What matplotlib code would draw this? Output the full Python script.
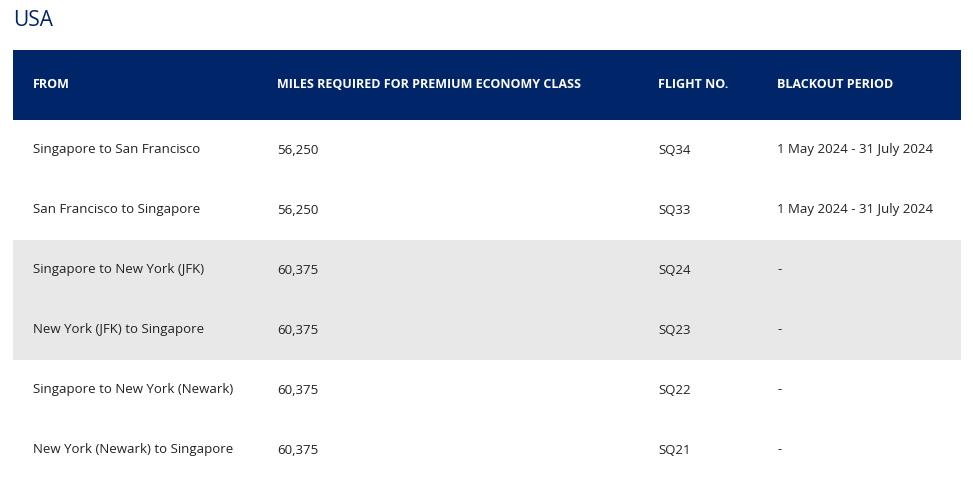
import matplotlib
matplotlib.use("Agg")
import matplotlib.pyplot as plt
from matplotlib.patches import Rectangle

title = "USA"
headers = ["FROM", "MILES REQUIRED FOR PREMIUM ECONOMY CLASS", "FLIGHT NO.", "BLACKOUT PERIOD"]
routes = ["Singapore to San Francisco", "San Francisco to Singapore",
          "Singapore to New York (JFK)", "New York (JFK) to Singapore",
          "Singapore to New York (Newark)", "New York (Newark) to Singapore"]
miles = ["56,250", "56,250", "60,375", "60,375", "60,375", "60,375"]
flights = ["SQ34", "SQ33", "SQ24", "SQ23", "SQ22", "SQ21"]
blackout = ["1 May 2024 - 31 July 2024", "1 May 2024 - 31 July 2024", "-", "-", "-", "-"]
shaded = [False, False, True, True, False, False]

W, H = 973, 480
fig = plt.figure(figsize=(W / 100, H / 100), dpi=100)
ax = fig.add_axes([0, 0, 1, 1])
ax.set_xlim(0, W)
ax.set_ylim(H, 0)
ax.axis("off")

font = "Open Sans"
navy = "#002569"
colx = [33, 277, 658, 777]

ax.text(13, 21, title, fontsize=15, color=navy, family=font, va="center", ha="left")
ax.add_patch(Rectangle((13, 50), 948, 70, color=navy, lw=0))
for x, h in zip(colx, headers):
    ax.text(x, 85, h, fontsize=9, color="white", weight="bold", family=font, va="center")

for i, cols in enumerate(zip(routes, miles, flights, blackout)):
    y0 = 120 + 60 * i
    if shaded[i]:
        ax.add_patch(Rectangle((13, y0), 948, 60, color="#e8e8e8", lw=0))
    for x, t in zip(colx, cols):
        ax.text(x, y0 + 30, t, fontsize=9.5, color="#222222", family=font, va="center")

fig.savefig("out.png", dpi=100)
